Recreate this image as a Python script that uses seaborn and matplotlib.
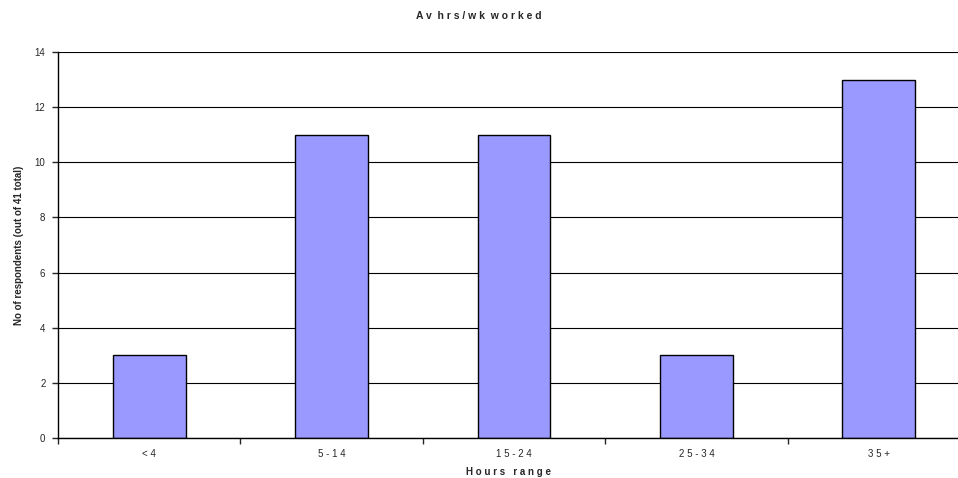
import matplotlib
matplotlib.use('Agg')
import matplotlib.pyplot as plt
import seaborn as sns
import pandas as pd
from matplotlib.ticker import FixedLocator

#----------------------------------------------------
l_cat=['<4', '5-14', '15-24', '25-34', '35+']
l_val=[3, 11, 11, 3, 13]
l_cat_lbl=['< 4', '5 - 1 4', '1 5 - 2 4', '2 5 - 3 4', '3 5 +']
y_ticks=[0, 2, 4, 6, 8, 10, 12, 14]

df=pd.DataFrame({'cat': l_cat, 'val': l_val})

#----------------------------------------------------
sns.set_style('white')
plt.rcParams['font.family']=['Liberation Sans', 'DejaVu Sans']

fig=plt.figure(figsize=(9.58, 4.78), dpi=100)
ax=fig.add_axes([58/958, 40/478, 1-58/958, 386/478])
sns.barplot(data=df, x='cat', y='val', color='#9999FF', saturation=1,
	edgecolor='black', linewidth=1, width=0.4, ax=ax)

#adjust
ax.set_ylim(0, 14)
ax.set_xlim(-0.5, 4.5-12/182.4)
ax.set_yticks(y_ticks)
ax.set_yticklabels([str(v) for v in y_ticks], fontsize=7)
ax.set_xticks(range(len(l_cat)))
ax.set_xticklabels(l_cat_lbl, fontsize=7)
ax.xaxis.set_minor_locator(FixedLocator([i-0.5 for i in range(len(l_cat)+1)]))
ax.tick_params(axis='x', which='major', length=0, pad=8)
ax.tick_params(axis='x', which='minor', length=4, width=1, direction='out', bottom=True)
ax.tick_params(axis='y', length=4, width=1, direction='out', left=True, pad=5)
ax.yaxis.grid(True, color='black', linewidth=0.8)
ax.set_axisbelow(True)
for s in ['top', 'right']:
	ax.spines[s].set_visible(False)
for s in ['left', 'bottom']:
	ax.spines[s].set_color('black')
	ax.spines[s].set_linewidth(1)

ax.set_xlabel('H o u r s   r a n g e', fontsize=7, weight='bold', labelpad=6)
ax.set_ylabel('No of respondents (out of 41 total)', fontsize=7, weight='bold', labelpad=8)
fig.text(0.5, 1-16/478, 'A v  h r s / w k  w o r k e d', ha='center', va='center',
	fontsize=7.5, weight='bold')

#save
plt.savefig('out.png', dpi=100)
plt.close()
